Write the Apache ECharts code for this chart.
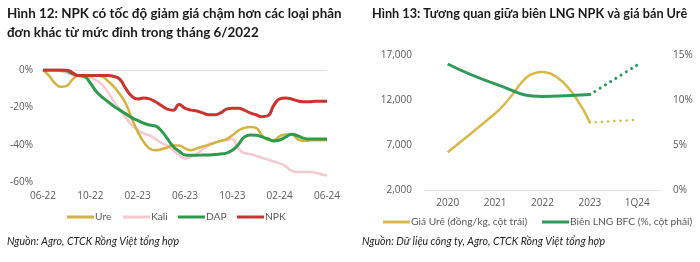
<!DOCTYPE html>
<html><head><meta charset="utf-8">
<script src="https://cdn.jsdelivr.net/npm/echarts@6/dist/echarts.min.js"></script>
<style>html,body{margin:0;padding:0;background:#fff}#c{width:700px;height:262px}</style>
</head><body><div id="c"></div>
<script>
// ---- Left chart data (half-month points, 06-22 .. 06-24) ----
const months = ["06-22","07-22","08-22","09-22","10-22","11-22","12-22","01-23","02-23","03-23","04-23","05-23","06-23","07-23","08-23","09-23","10-23","11-23","12-23","01-24","02-24","03-24","04-24","05-24","06-24"];
const ure  = [0,-3,-7,-9,-8.5,-5,-3,-3,-3,-3,-3.5,-6,-9,-13,-18,-26,-33,-38.5,-42,-43,-42.5,-41.5,-40.5,-40.5,-42,-43,-42,-41,-40,-39,-38,-37,-35,-32.5,-31,-30.5,-31,-35,-37.5,-37.5,-35.5,-34.5,-34.5,-37,-38,-37.8,-37.6,-37.6,-37.6];
const kali = [0,0,0,-0.5,-1.5,-2.5,-3,-3,-4,-5.5,-8,-12,-17,-21.5,-25.5,-29.5,-32,-34,-35,-37,-39,-40.5,-43,-45.5,-47.5,-46.5,-45,-42.5,-40.5,-39,-38,-37.6,-37,-42,-44.5,-45,-46,-47,-48,-49,-50,-51.5,-54,-54.6,-54.6,-54.6,-55,-55.8,-56.5];
const dap  = [0,0,0,0,-0.5,-2,-3,-3.5,-7,-11.5,-14.5,-17,-19.5,-21.5,-23.5,-25.5,-27,-28.5,-29.5,-30,-32.5,-36.7,-41,-43.5,-45.5,-45.7,-45.7,-45.5,-45.5,-45.3,-45,-44.5,-43,-40,-36,-34.8,-35,-35.8,-36.8,-38,-37.5,-36,-34.4,-35.2,-36.5,-37,-37,-37,-37];
const npk  = [0,0,0,0,0,-1.5,-3,-3,-3,-3,-3,-3,-3.5,-5,-10,-14,-15.5,-15,-15.5,-17,-19,-21,-21.5,-18.5,-20.5,-21.5,-22,-23,-24,-24,-23,-21,-20.5,-20.5,-21.5,-23,-24,-25,-24.5,-19,-15.5,-15,-15.5,-16.5,-17,-17,-16.8,-16.7,-16.7];
const leftYTicks = [0,-20,-40,-60];
const leftNames = ['Ure','Kali','DAP','NPK'];

// ---- Right chart data ----
const years = ["2020","2021","2022","2023","1Q24"];
const ureaPrice = [6200,10500,15100,9500,9800];     // đồng/kg
const bfcMargin = [14.0,11.8,10.4,10.6,13.9];       // %
const rightLeftTicks = [2000,7000,12000,17000];

const halfCats = [];
months.forEach((m,i)=>{ halfCats.push(m); if(i<months.length-1) halfCats.push(m+"|15"); });

const FONT = "Open Sans";
const TFONT = "Lato";
const GREY = "#595959";
const C_URE="#D4B23E", C_KALI="#F5C9CF", C_DAP="#2E9A4E", C_NPK="#C9342F";
const C_URE2="#D8B84A", C_GRN2="#2F9A5C";
const N1 = 'Giá Urê (đồng/kg, cột trái)', N2 = 'Biên LNG BFC (%, cột phải)';
const T1a = "Hình 12: NPK có tốc độ giảm giá chậm hơn các loại phân";
const T1b = "đơn khác từ mức đỉnh trong tháng 6/2022";
const T2 = "Hình 13: Tương quan giữa biên LNG NPK và giá bán Urê";
const S1 = "Nguồn: Agro, CTCK Rồng Việt tổng hợp";
const S2 = "Nguồn: Dữ liệu công ty, Agro, CTCK Rồng Việt tổng hợp";

// fit a text's font size to the width it occupies in the reference
const ctx = document.createElement('canvas').getContext('2d');
function fit(text, family, weight, style, target){
  ctx.font = `${style} ${weight} 100px "${family}"`;
  return Math.round(100*target/ctx.measureText(text).width*10)/10;
}
const fT1 = fit(T1a, TFONT, 'bold', 'normal', 335);
const fT2 = fit(T2, TFONT, 'bold', 'normal', 316);
const fS1 = fit(S1, TFONT, 'normal', 'italic', 173);
const fS2 = fit(S2, TFONT, 'normal', 'italic', 243);
const fL = (fit(N1, TFONT, 'normal', 'normal', 119) + fit(N2, TFONT, 'normal', 'normal', 119)) / 2;

const solid = (arr)=>arr.map((v,i)=>i<arr.length-1?v:null);
const dotted = (arr)=>arr.map((v,i)=>i>=arr.length-2?v:null);
const legTxt = {color:GREY,fontSize:fL,fontFamily:TFONT,padding:[0,0,0,-4]};
const leg = (name,left,top)=>({data:[name],left,top,padding:0,itemWidth:27,itemHeight:3,icon:'rect',textStyle:legTxt});
const AX = {color:GREY,fontSize:10,fontFamily:FONT};

const chart = echarts.init(document.getElementById('c'));
chart.setOption({
  animation:false,
  textStyle:{fontFamily:FONT},
  title:[
    {text:T1a+"\n"+T1b,left:7,top:4,padding:0,
     textStyle:{fontFamily:TFONT,fontSize:fT1,fontWeight:'bold',color:'#1a1a1a',lineHeight:19}},
    {text:T2,left:372,top:4,padding:0,
     textStyle:{fontFamily:TFONT,fontSize:fT2,fontWeight:'bold',color:'#1a1a1a',lineHeight:19}},
    {text:S1,left:7,top:235,padding:0,
     textStyle:{fontFamily:TFONT,fontSize:fS1,fontStyle:'italic',fontWeight:'normal',color:'#222',lineHeight:14}},
    {text:S2,left:362,top:235,padding:0,
     textStyle:{fontFamily:TFONT,fontSize:fS2,fontStyle:'italic',fontWeight:'normal',color:'#222',lineHeight:14}}
  ],
  grid:[
    {left:43,top:70,width:284,height:112,outerBoundsMode:'none'},
    {left:424,top:55,width:237,height:135,outerBoundsMode:'none'}
  ],
  xAxis:[
    {type:'category',gridIndex:0,data:halfCats,boundaryGap:false,
     axisLine:{show:false},axisTick:{show:false},
     axisLabel:Object.assign({interval:7,margin:9,formatter:v=>v.split('|')[0]},AX)},
    {type:'category',gridIndex:0,data:halfCats,boundaryGap:false,position:'top',
     axisLine:{show:true,lineStyle:{color:'#e3e3e3',width:1}},axisTick:{show:false},axisLabel:{show:false}},
    {type:'category',gridIndex:1,data:years,boundaryGap:true,
     axisLine:{show:true,lineStyle:{color:'#e3e3e3',width:1}},axisTick:{show:false},
     axisLabel:Object.assign({margin:8},AX)}
  ],
  yAxis:[
    {type:'value',gridIndex:0,min:-60,max:0,interval:20,
     splitLine:{show:false},axisLine:{show:false},axisTick:{show:false},
     axisLabel:Object.assign({margin:10,formatter:v=>leftYTicks.includes(v)?v+'%':''},AX)},
    {type:'value',gridIndex:1,min:2000,max:17000,interval:1000,
     splitLine:{show:false},axisLine:{show:false},axisTick:{show:false},
     axisLabel:Object.assign({margin:12,formatter:v=>rightLeftTicks.includes(v)?v.toLocaleString('en-US'):''},AX)},
    {type:'value',gridIndex:1,position:'right',min:0,max:15,interval:5,
     splitLine:{show:false},axisLine:{show:false},axisTick:{show:false},
     axisLabel:Object.assign({margin:12,formatter:'{value}%'},AX)}
  ],
  legend:[
    leg(leftNames[0],67,212), leg(leftNames[1],123,212), leg(leftNames[2],178,212), leg(leftNames[3],237,212),
    leg(N1,383,217), leg(N2,542,217)
  ],
  series:[
    {name:'Kali',type:'line',xAxisIndex:0,yAxisIndex:0,data:kali,smooth:0.5,showSymbol:false,color:C_KALI,lineStyle:{width:2.5}},
    {name:'Ure',type:'line',xAxisIndex:0,yAxisIndex:0,data:ure,smooth:0.5,showSymbol:false,color:C_URE,lineStyle:{width:2.5}},
    {name:'DAP',type:'line',xAxisIndex:0,yAxisIndex:0,data:dap,smooth:0.5,showSymbol:false,color:C_DAP,lineStyle:{width:3}},
    {name:'NPK',type:'line',xAxisIndex:0,yAxisIndex:0,data:npk,smooth:0.5,showSymbol:false,color:C_NPK,lineStyle:{width:3}},
    {name:N1,type:'line',xAxisIndex:2,yAxisIndex:1,data:solid(ureaPrice),smooth:0.5,showSymbol:false,color:C_URE2,lineStyle:{width:2.5}},
    {name:'Urê dự báo',type:'line',xAxisIndex:2,yAxisIndex:1,data:dotted(ureaPrice),smooth:0.5,showSymbol:false,color:C_URE2,lineStyle:{width:2.5,type:[0.1,6],cap:'round'}},
    {name:N2,type:'line',xAxisIndex:2,yAxisIndex:2,data:solid(bfcMargin),smooth:0.5,showSymbol:false,color:C_GRN2,lineStyle:{width:3}},
    {name:'Biên dự báo',type:'line',xAxisIndex:2,yAxisIndex:2,data:dotted(bfcMargin),smooth:0.5,showSymbol:false,color:C_GRN2,lineStyle:{width:3,type:[0.1,6],cap:'round'}}
  ]
});
</script></body></html>
